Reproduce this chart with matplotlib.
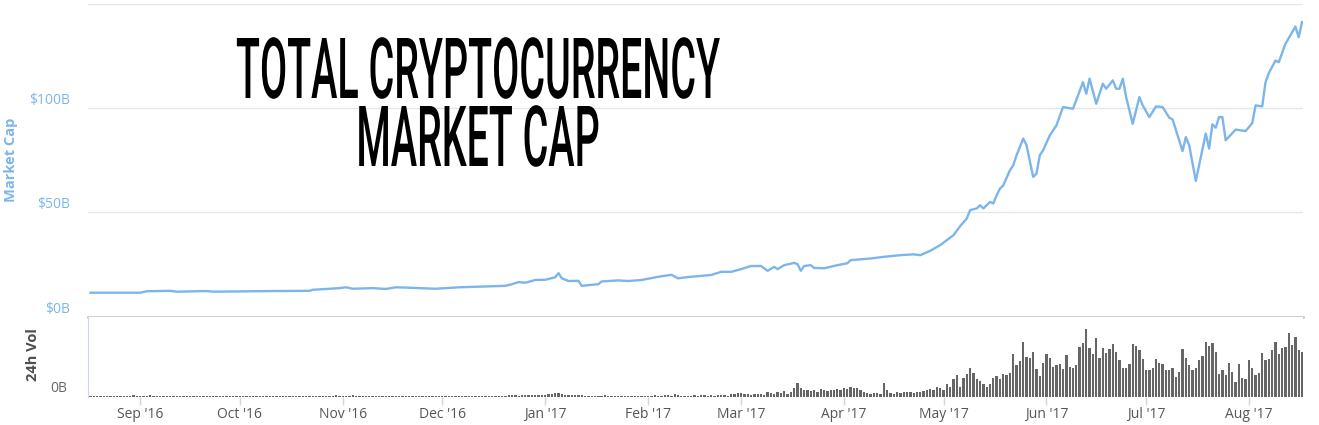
import matplotlib
matplotlib.use('Agg')
import matplotlib.pyplot as plt
import matplotlib.dates as mdates
from matplotlib.patheffects import AbstractPathEffect
from matplotlib.transforms import Affine2D
from matplotlib.textpath import TextPath
from matplotlib.font_manager import FontProperties
import pandas as pd
from datetime import datetime

# total market cap, $B
mcap_dates = [
    '2016-08-17', '2016-09-01', '2016-09-03', '2016-09-10', '2016-09-12', '2016-09-21', '2016-09-23',
    '2016-10-11', '2016-10-22', '2016-10-23', '2016-10-31', '2016-11-02', '2016-11-04', '2016-11-10',
    '2016-11-14', '2016-11-17', '2016-11-21', '2016-11-29', '2016-12-06', '2016-12-20', '2016-12-22',
    '2016-12-24', '2016-12-26', '2016-12-29', '2017-01-01', '2017-01-04', '2017-01-05', '2017-01-06',
    '2017-01-08', '2017-01-11', '2017-01-12', '2017-01-17', '2017-01-18', '2017-01-23', '2017-01-26',
    '2017-01-30', '2017-02-04', '2017-02-08', '2017-02-10', '2017-02-13', '2017-02-17', '2017-02-20',
    '2017-02-23', '2017-02-26', '2017-03-01', '2017-03-04', '2017-03-07', '2017-03-09', '2017-03-11',
    '2017-03-12', '2017-03-14', '2017-03-17', '2017-03-18', '2017-03-19', '2017-03-20', '2017-03-22',
    '2017-03-23', '2017-03-26', '2017-03-30', '2017-04-02', '2017-04-03', '2017-04-09', '2017-04-13',
    '2017-04-18', '2017-04-22', '2017-04-24', '2017-04-27', '2017-04-30', '2017-05-02', '2017-05-04',
    '2017-05-06', '2017-05-08', '2017-05-09', '2017-05-11', '2017-05-12', '2017-05-13', '2017-05-15',
    '2017-05-16', '2017-05-17', '2017-05-18', '2017-05-19', '2017-05-21', '2017-05-22', '2017-05-23',
    '2017-05-25', '2017-05-26', '2017-05-28', '2017-05-29', '2017-05-30', '2017-05-31', '2017-06-02',
    '2017-06-04', '2017-06-06', '2017-06-09', '2017-06-12', '2017-06-13', '2017-06-14', '2017-06-16',
    '2017-06-18', '2017-06-19', '2017-06-21', '2017-06-22', '2017-06-23', '2017-06-24', '2017-06-25',
    '2017-06-27', '2017-06-29', '2017-06-30', '2017-07-02', '2017-07-04', '2017-07-06', '2017-07-08',
    '2017-07-09', '2017-07-12', '2017-07-13', '2017-07-14', '2017-07-16', '2017-07-19', '2017-07-20',
    '2017-07-21', '2017-07-22', '2017-07-23', '2017-07-24', '2017-07-25', '2017-07-28', '2017-07-31',
    '2017-08-02', '2017-08-03', '2017-08-05', '2017-08-06', '2017-08-07', '2017-08-09', '2017-08-10',
    '2017-08-12', '2017-08-15', '2017-08-16', '2017-08-17',
]
mcap = [
    11.5, 11.5, 12.2, 12.4, 12.0, 12.3, 12.0,
    12.3, 12.4, 12.9, 13.7, 14.1, 13.4, 13.7,
    13.3, 14.1, 13.9, 13.4, 14.1, 14.8, 15.6,
    16.6, 16.3, 17.6, 17.7, 18.9, 20.9, 18.4,
    17.1, 17.2, 14.8, 15.6, 16.9, 17.4, 17.1,
    17.6, 19.1, 20.1, 18.4, 19.0, 19.6, 20.0,
    21.5, 21.5, 22.8, 24.3, 24.3, 22.0, 23.9,
    22.8, 24.7, 25.8, 25.2, 22.0, 24.3, 24.7,
    23.4, 23.2, 24.7, 25.6, 27.1, 27.9, 28.7,
    29.5, 29.9, 29.5, 31.6, 34.3, 36.7, 39.1,
    43.4, 47.1, 51.1, 51.9, 53.4, 51.9, 55.0,
    54.3, 58.2, 61.4, 63.0, 70.2, 72.6, 77.4,
    85.4, 82.2, 67.0, 68.6, 77.4, 79.8, 86.9,
    91.7, 100.5, 99.7, 112.4, 106.9, 114.1, 102.1,
    111.7, 109.3, 113.3, 109.3, 109.3, 114.1, 105.3,
    92.5, 105.3, 101.3, 95.7, 100.8, 100.5, 95.4,
    94.6, 79.4, 86.1, 82.2, 65.1, 87.8, 80.6,
    92.2, 90.6, 95.7, 95.7, 84.6, 89.7, 89.0,
    92.8, 101.3, 100.8, 112.4, 116.8, 122.8, 122.0,
    130.8, 139.1, 134.0, 141.2,
]

# 24h volume, $B, one bar per day from 2016-08-17 to 2017-08-17
vol_aug16 = [0.08, 0.07, 0.08, 0.08, 0.07, 0.07, 0.08, 0.08, 0.07, 0.08, 0.08, 0.08, 0.07, 0.2, 0.08]
vol_sep16 = [0.08, 0.08, 0.07, 0.2, 0.08, 0.08, 0.07, 0.07, 0.08, 0.08, 0.07, 0.07, 0.08, 0.08, 0.07,
             0.07, 0.07, 0.07, 0.08, 0.08, 0.07, 0.07, 0.08, 0.07, 0.07, 0.07, 0.08, 0.07, 0.07, 0.07]
vol_oct16 = [0.07, 0.07, 0.08, 0.07, 0.07, 0.07, 0.07, 0.08, 0.07, 0.07, 0.07, 0.07, 0.08, 0.07, 0.07,
             0.07, 0.07, 0.07, 0.08, 0.07, 0.07, 0.07, 0.07, 0.07, 0.08, 0.07, 0.07, 0.07, 0.07, 0.2, 0.08]
vol_nov16 = [0.08, 0.08, 0.08, 0.2, 0.08, 0.07, 0.07, 0.08, 0.08, 0.07, 0.07, 0.07, 0.08, 0.07, 0.07,
             0.07, 0.08, 0.07, 0.07, 0.07, 0.07, 0.08, 0.07, 0.07, 0.07, 0.07, 0.08, 0.07, 0.07, 0.08]
vol_dec16 = [0.08, 0.08, 0.08, 0.08, 0.09, 0.08, 0.08, 0.08, 0.09, 0.08, 0.08, 0.08, 0.09, 0.08, 0.08,
             0.09, 0.08, 0.08, 0.09, 0.1, 0.15, 0.15, 0.12, 0.1, 0.15, 0.18, 0.15, 0.12, 0.2, 0.2, 0.15]
vol_jan17 = [0.2, 0.25, 0.3, 0.35, 0.4, 0.3, 0.2, 0.2, 0.15, 0.2, 0.2, 0.15, 0.1, 0.1, 0.1,
             0.08, 0.1, 0.1, 0.12, 0.1, 0.08, 0.08, 0.08, 0.08, 0.1, 0.08, 0.08, 0.08, 0.08, 0.08, 0.1]
vol_feb17 = [0.1, 0.1, 0.12, 0.1, 0.1, 0.15, 0.12, 0.1, 0.25, 0.15, 0.1, 0.1, 0.1, 0.1,
             0.12, 0.1, 0.12, 0.15, 0.1, 0.12, 0.1, 0.15, 0.2, 0.15, 0.1, 0.25, 0.3, 0.35]
vol_mar17 = [0.35, 0.3, 0.25, 0.2, 0.25, 0.3, 0.3, 0.2, 0.5, 0.4, 0.3, 0.5, 0.4, 0.6, 0.3, 0.5,
             0.9, 1.4, 0.9, 0.7, 0.7, 0.6, 0.7, 0.5, 0.8, 0.7, 0.6, 0.7, 0.7, 0.8, 0.7]
vol_apr17 = [0.9, 0.8, 1.0, 0.9, 0.9, 0.7, 0.5, 0.4, 0.3, 0.4, 0.4, 0.3, 1.4, 0.7, 0.4,
             0.3, 0.5, 0.4, 0.5, 0.5, 0.5, 0.4, 0.5, 0.5, 0.6, 0.7, 0.8, 0.7, 1.0, 0.9]
vol_may17 = [0.7, 1.3, 1.0, 1.8, 2.2, 1.0, 1.9, 2.3, 2.9, 2.4, 1.8, 1.6, 1.3, 1.0, 1.3, 1.9,
             2.1, 1.8, 2.3, 2.2, 2.4, 4.3, 3.2, 3.6, 5.5, 4.0, 3.9, 4.5, 2.8, 2.1, 3.4]
vol_jun17 = [4.3, 3.9, 3.0, 3.2, 3.3, 2.8, 4.2, 3.0, 2.9, 3.2, 5.0, 5.4, 6.8, 4.9, 4.3,
             5.9, 3.9, 4.9, 4.4, 4.8, 5.3, 4.5, 3.7, 2.9, 2.9, 3.3, 5.3, 5.1, 4.7, 3.8]
vol_jul17 = [2.7, 2.7, 2.9, 3.8, 3.4, 3.3, 2.7, 2.7, 2.9, 2.0, 2.5, 4.8, 3.9, 3.2, 2.7, 2.9,
             3.7, 4.1, 5.5, 5.1, 5.4, 4.5, 2.3, 2.7, 2.2, 3.4, 2.5, 1.5, 3.3, 1.9, 1.8]
vol_aug17 = [3.7, 2.9, 2.2, 2.4, 4.4, 3.7, 3.8, 4.7, 5.5, 4.3, 4.9, 5.0, 6.4, 5.2, 6.0, 4.7, 4.5]

volume = (vol_aug16 + vol_sep16 + vol_oct16 + vol_nov16 + vol_dec16 + vol_jan17 + vol_feb17
          + vol_mar17 + vol_apr17 + vol_may17 + vol_jun17 + vol_jul17 + vol_aug17)
vol_dates = pd.date_range('2016-08-17', periods=len(volume), freq='D')

title_lines = ['TOTAL CRYPTOCURRENCY', 'MARKET CAP']

LINE = '#7cb5ec'
W, H = 1319, 425
plt.rcParams['font.family'] = ['Open Sans', 'DejaVu Sans']


class StretchY(AbstractPathEffect):
  # draws the glyphs taller than they are wide, for a condensed poster look
  def __init__(self, sy):
    super().__init__()
    self.sy = sy

  def draw_path(self, renderer, gc, tpath, affine, rgbFace=None):
    renderer.draw_path(gc, tpath, Affine2D().scale(1, self.sy) + affine, rgbFace)


fig = plt.figure(figsize=(W / 100, H / 100), dpi=100)
ax = fig.add_axes([88 / W, 1 - 316.7 / H, (1303 - 88) / W, (316.7 - 3.8) / H])
axv = fig.add_axes([88 / W, 1 - 396.5 / H, (1303 - 88) / W, (396.5 - 316.7) / H], sharex=ax)

# market cap line
ax.plot(pd.to_datetime(mcap_dates), mcap, color=LINE, lw=1.7, solid_joinstyle='round')
ax.set_ylim(0, 150)
ax.set_yticks([0, 50, 100, 150])
ax.set_yticklabels(['\\$0B', '\\$50B', '\\$100B', ''])
ax.grid(axis='y', color='#e6e6e6', lw=1)
ax.set_axisbelow(True)
ax.tick_params(axis='y', length=0, pad=13, labelsize=10, labelcolor=LINE)
ax.tick_params(axis='x', length=0, labelbottom=False)
for lbl in ax.get_yticklabels():
  lbl.set_verticalalignment('bottom')
for s in ['top', 'left', 'right']:
  ax.spines[s].set_visible(False)
ax.spines['bottom'].set_color('#cccccc')
ax.spines['bottom'].set_linewidth(2)

# volume bars
axv.bar(vol_dates, volume, width=0.7, color='#666666')
axv.set_ylim(0, 8)
axv.set_yticks([0])
axv.set_yticklabels(['0B'])
axv.tick_params(axis='y', length=0, pad=15, labelsize=10, labelcolor='#666666')
for lbl in axv.get_yticklabels():
  lbl.set_verticalalignment('bottom')
axv.xaxis.set_major_locator(mdates.MonthLocator())
axv.xaxis.set_major_formatter(mdates.DateFormatter("%b '%y"))
axv.tick_params(axis='x', length=5.8, width=1, color='#ccd6eb', pad=1.5, labelsize=10, labelcolor='#555555')
for s in ['top', 'right', 'bottom']:
  axv.spines[s].set_visible(False)
axv.spines['left'].set_color('#ccd6eb')
axv.set_xlim(datetime(2016, 8, 16, 6), datetime(2017, 8, 17, 7))

fig.text(11 / W, 1 - 160 / H, 'Market Cap', rotation=90, ha='center', va='center',
         color=LINE, fontsize=10.5, fontweight='bold')
fig.text(33 / W, 1 - 355 / H, '24h Vol', rotation=90, ha='center', va='center',
         color='#4d4d4d', fontsize=10.5, fontweight='bold')

# poster title: size the font so line 1 is 483 px wide, then stretch to 60 px caps
tfont = FontProperties(family='Roboto', weight='medium')
em_w = TextPath((0, 0), title_lines[0], size=1, prop=tfont).get_extents().width
cap_h = TextPath((0, 0), 'H', size=1, prop=tfont).get_extents().height
fs_px = 483 / em_w
for txt, base in zip(title_lines, [98, 166]):
  fig.text(478 / W, 1 - base / H, txt, ha='center', va='baseline', fontproperties=tfont,
           fontsize=fs_px * 0.72, color='black', path_effects=[StretchY(60 / (cap_h * fs_px))])

fig.savefig('out.png', dpi=100)
